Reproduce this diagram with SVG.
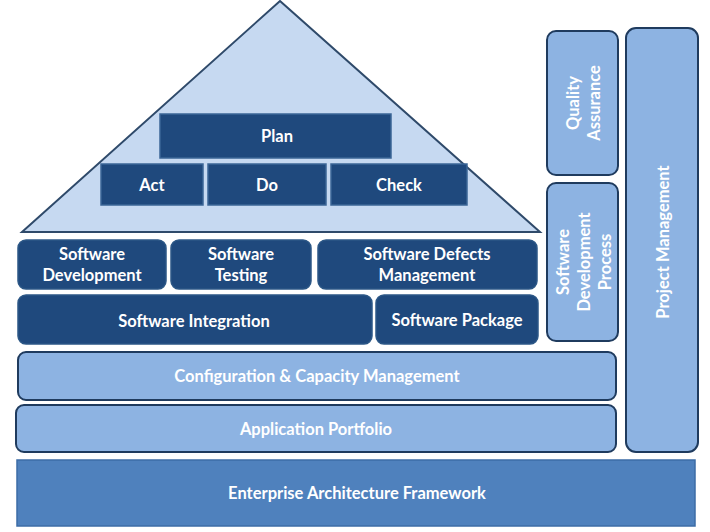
<svg xmlns="http://www.w3.org/2000/svg" width="710" height="532" viewBox="0 0 710 532">
<style>
.t{font-family:Lato,"Open Sans","Liberation Sans",sans-serif;font-weight:bold;font-size:16.5px;fill:#ffffff;text-anchor:middle}
.dk{fill:#1f497d;stroke:#2c5786;stroke-width:1.5}
.sq{fill:#1f497d;stroke:#3b6696;stroke-width:1.5}
.lt{fill:#8db3e2;stroke:#1f3b5e;stroke-width:2}
</style>
<rect width="710" height="532" fill="#ffffff"/>
<g id="pyramid">
<polygon points="280,1 22,232 540,232" fill="#c6d9f1" stroke="#2f4a6a" stroke-width="2"/>
</g>
<g id="plan"><rect class="sq" x="160" y="114" width="231" height="44"/><text class="t" x="277" y="142">Plan</text></g>
<g id="act"><rect class="sq" x="101" y="164" width="102" height="41"/><text class="t" x="152" y="191">Act</text></g>
<g id="do"><rect class="sq" x="208" y="164" width="118" height="41"/><text class="t" x="267" y="191">Do</text></g>
<g id="check"><rect class="sq" x="331" y="164" width="136" height="41"/><text class="t" x="399" y="191">Check</text></g>
<g id="sw-dev"><rect class="dk" x="18" y="240" width="148" height="49" rx="8"/><text class="t" x="92" y="260">Software</text><text class="t" x="92" y="281">Development</text></g>
<g id="sw-test"><rect class="dk" x="171" y="240" width="140" height="49" rx="8"/><text class="t" x="241" y="260">Software</text><text class="t" x="241" y="281">Testing</text></g>
<g id="sw-defects"><rect class="dk" x="318" y="240" width="219" height="49" rx="8"/><text class="t" x="427" y="260">Software Defects</text><text class="t" x="427" y="281">Management</text></g>
<g id="sw-integration"><rect class="dk" x="18" y="295" width="354" height="49" rx="8"/><text class="t" x="194" y="327">Software Integration</text></g>
<g id="sw-package"><rect class="dk" x="376" y="295" width="162" height="49" rx="8"/><text class="t" x="457" y="326">Software Package</text></g>
<g id="config"><rect class="lt" x="18" y="352" width="598" height="48" rx="8"/><text class="t" x="317" y="382">Configuration &amp; Capacity Management</text></g>
<g id="portfolio"><rect class="lt" x="16" y="405" width="600" height="47" rx="8"/><text class="t" x="316" y="435">Application Portfolio</text></g>
<g id="enterprise"><rect x="17" y="460" width="678" height="66" fill="#4f81bd" stroke="#3c6ca6" stroke-width="1.5"/><text class="t" x="357" y="499">Enterprise Architecture Framework</text></g>
<g id="qa"><rect class="lt" x="547" y="31" width="71" height="144" rx="9"/><text class="t" transform="translate(579,103) rotate(-90)">Quality</text><text class="t" transform="translate(600,103) rotate(-90)">Assurance</text></g>
<g id="sdp"><rect class="lt" x="547" y="183" width="71" height="158" rx="9"/><text class="t" transform="translate(569,262) rotate(-90)">Software</text><text class="t" transform="translate(590,262) rotate(-90)">Development</text><text class="t" transform="translate(611,262) rotate(-90)">Process</text></g>
<g id="pm"><rect class="lt" x="626" y="28" width="72" height="424" rx="10"/><text class="t" transform="translate(669,242) rotate(-90)">Project Management</text></g>
<g id="connectors"></g>
</svg>
